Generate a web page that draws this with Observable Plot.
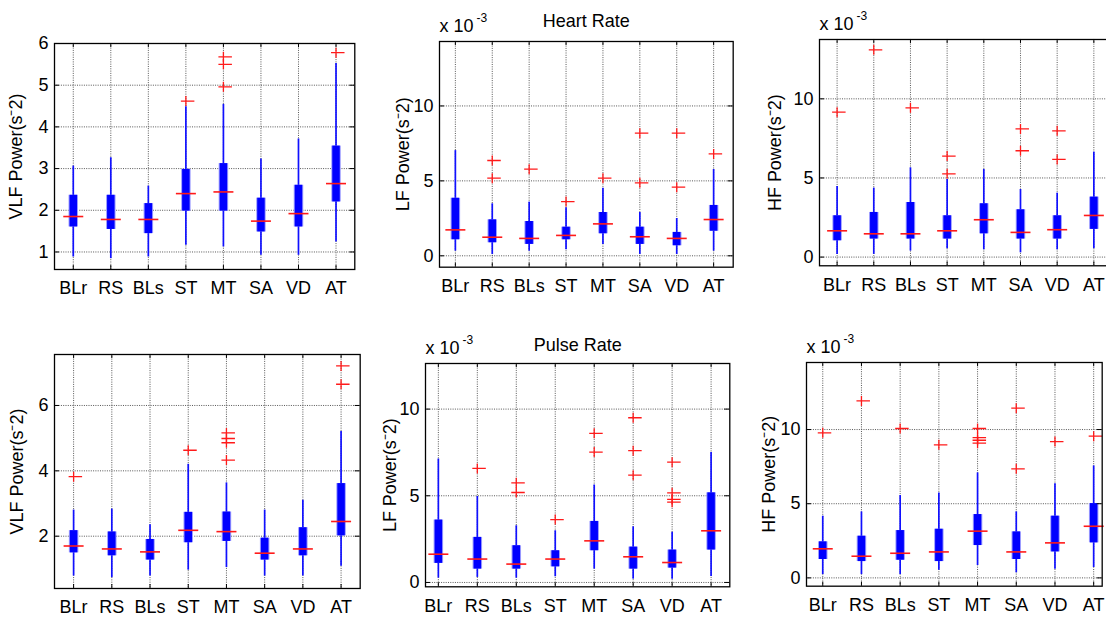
<!DOCTYPE html>
<html><head><meta charset="utf-8">
<script src="https://cdn.jsdelivr.net/npm/d3@7"></script>
<script src="https://cdn.jsdelivr.net/npm/@observablehq/plot@0.6"></script>
<style>
html,body{margin:0;padding:0;background:#fff;}
#wrap{position:relative;width:1106px;height:617px;overflow:hidden;background:#fff;}
#wrap > div{position:absolute;}
</style></head><body><div id="wrap"></div><script>
// ---------- data ----------
const categories = ["BLr","RS","BLs","ST","MT","SA","VD","AT"];

// Heart Rate, VLF
const hrVlfLo  = [0.88, 0.84, 0.88, 1.16, 1.12, 0.92, 0.92, 1.24];
const hrVlfQ1  = [1.60, 1.54, 1.44, 1.98, 1.98, 1.48, 1.60, 2.20];
const hrVlfMed = [1.85, 1.78, 1.78, 2.40, 2.44, 1.74, 1.92, 2.64];
const hrVlfQ3  = [2.36, 2.36, 2.16, 2.98, 3.12, 2.29, 2.60, 3.54];
const hrVlfHi  = [3.06, 3.26, 2.58, 4.48, 4.54, 3.23, 3.71, 5.52];
const hrVlfOut = [[], [], [], [4.62], [5.68, 5.50, 4.96], [], [], [5.78]];

// Heart Rate, LF (x 10^-3)
const hrLfLo  = [0.31, 0.09, 0.31, 0.40, 0.76, 0.09, 0.09, 0.31];
const hrLfQ1  = [1.07, 0.87, 0.76, 1.07, 1.47, 0.76, 0.67, 1.64];
const hrLfMed = [1.73, 1.24, 1.16, 1.36, 2.13, 1.27, 1.16, 2.42];
const hrLfQ3  = [3.84, 2.40, 2.29, 1.91, 2.89, 1.91, 1.56, 3.36];
const hrLfHi  = [7.02, 3.47, 3.58, 3.20, 4.51, 2.89, 2.49, 5.76];
const hrLfOut = [[], [6.36, 5.18], [5.78], [3.62], [5.18], [8.18, 4.87], [8.18, 4.58], [6.80]];

// Heart Rate, HF (x 10^-3)
const hrHfLo  = [0.17, 0.17, 0.38, 0.53, 0.46, 0.27, 0.46, 0.53];
const hrHfQ1  = [1.03, 1.14, 1.14, 1.14, 1.47, 1.14, 1.14, 1.75];
const hrHfMed = [1.66, 1.47, 1.47, 1.66, 2.36, 1.56, 1.73, 2.63];
const hrHfQ3  = [2.61, 2.82, 3.45, 2.61, 3.37, 2.99, 2.61, 3.79];
const hrHfHi  = [4.46, 4.36, 5.64, 4.90, 5.54, 4.27, 4.04, 6.63];
const hrHfOut = [[9.16], [13.10], [9.43], [6.38, 5.26], [], [8.10, 6.72], [7.98, 6.17], []];

// Pulse Rate, VLF
const prVlfLo  = [0.78, 0.73, 0.78, 0.96, 1.04, 0.78, 0.78, 1.08];
const prVlfQ1  = [1.49, 1.40, 1.27, 1.80, 1.84, 1.27, 1.40, 2.01];
const prVlfMed = [1.70, 1.61, 1.52, 2.18, 2.14, 1.48, 1.61, 2.45];
const prVlfQ3  = [2.17, 2.13, 1.90, 2.73, 2.74, 1.94, 2.26, 3.61];
const prVlfHi  = [2.80, 2.83, 2.35, 4.20, 3.63, 2.80, 3.10, 5.20];
const prVlfOut = [[3.82], [], [], [4.63], [5.16, 4.99, 4.86, 4.33], [], [], [7.21, 6.65]];

// Pulse Rate, LF (x 10^-3)
const prLfLo  = [0.25, 0.29, 0.25, 0.33, 0.77, 0.19, 0.19, 0.35];
const prLfQ1  = [1.10, 0.77, 0.77, 0.90, 1.83, 0.77, 0.83, 1.87];
const prLfMed = [1.63, 1.35, 1.06, 1.35, 2.40, 1.48, 1.15, 2.98];
const prLfQ3  = [3.60, 2.60, 2.12, 1.83, 3.52, 2.04, 1.87, 5.17];
const prLfHi  = [7.12, 4.96, 3.27, 2.98, 5.62, 3.21, 2.90, 7.50];
const prLfOut = [[], [6.58], [5.75, 5.19], [3.63], [8.60, 7.52], [9.50, 7.60, 6.19], [6.94, 5.17, 4.79, 4.63], []];

// Pulse Rate, HF (x 10^-3)
const prHfLo  = [0.22, 0.22, 0.22, 0.52, 0.83, 0.34, 0.58, 0.70];
const prHfQ1  = [1.24, 1.10, 1.19, 1.10, 2.18, 1.24, 1.75, 2.36];
const prHfMed = [1.96, 1.46, 1.66, 1.75, 3.15, 1.75, 2.36, 3.48];
const prHfQ3  = [2.43, 2.81, 3.19, 3.28, 4.27, 3.10, 4.16, 5.01];
const prHfHi  = [4.16, 4.45, 5.55, 5.73, 7.08, 4.45, 6.34, 7.55];
const prHfOut = [[9.78], [11.93], [10.07], [8.97], [10.07, 9.46, 9.28, 9.08], [11.44, 7.35], [9.19], [9.55]];

const ticksVlfTop = [1, 2, 3, 4, 5, 6];
const ticksVlfBottom = [2, 4, 6];
const ticksMilli = [0, 5, 10];

// ---------- layout ----------
const panels = [
  {stats:[hrVlfLo,hrVlfQ1,hrVlfMed,hrVlfQ3,hrVlfHi], out:hrVlfOut, ylabel:"VLF Power(s\u207B2)", title:null, note:false,
   yDomain:[0.58, 6.0], yTicks:ticksVlfTop, xDomain:[0.5, 8.5], frame:[54, 354.3, 43, 269], labelDx:-38},
  {stats:[hrLfLo,hrLfQ1,hrLfMed,hrLfQ3,hrLfHi], out:hrLfOut, ylabel:"LF Power(s\u207B2)", title:"Heart Rate", titleDy:-27, note:true,
   yDomain:[-0.76, 14.3], yTicks:ticksMilli, xDomain:[0.57, 8.53], frame:[439, 732.7, 41, 266.7], labelDx:-36},
  {stats:[hrHfLo,hrHfQ1,hrHfMed,hrHfQ3,hrHfHi], out:hrHfOut, ylabel:"HF Power(s\u207B2)", title:null, note:true,
   yDomain:[-0.55, 13.75], yTicks:ticksMilli, xDomain:[0.52, 8.5], frame:[819.3, 1112, 39, 265.3], labelDx:-44},
  {stats:[prVlfLo,prVlfQ1,prVlfMed,prVlfQ3,prVlfHi], out:prVlfOut, ylabel:"VLF Power(s\u207B2)", title:null, note:false,
   yDomain:[0.4, 7.56], yTicks:ticksVlfBottom, xDomain:[0.5, 8.5], frame:[54.3, 360, 354.3, 588.3], labelDx:-37},
  {stats:[prLfLo,prLfQ1,prLfMed,prLfQ3,prLfHi], out:prLfOut, ylabel:"LF Power(s\u207B2)", title:"Pulse Rate", titleDy:-25.4, note:true,
   yDomain:[-0.25, 12.63], yTicks:ticksMilli, xDomain:[0.67, 8.48], frame:[425, 729.3, 362.7, 586], labelDx:-35},
  {stats:[prHfLo,prHfQ1,prHfMed,prHfQ3,prHfHi], out:prHfOut, ylabel:"HF Power(s\u207B2)", title:null, note:true,
   yDomain:[-0.56, 14.52], yTicks:ticksMilli, xDomain:[0.58, 8.22], frame:[806, 1101.7, 362.3, 586], labelDx:-37.5}
];

const plusSym = {draw(ctx, size) { const r = Math.sqrt(size / Math.PI);
  ctx.moveTo(-r, 0); ctx.lineTo(r * 1.7, 0); ctx.moveTo(0, -r); ctx.lineTo(0, r); }};
const hlineSym = {draw(ctx, size) { const r = Math.sqrt(size / Math.PI);
  ctx.moveTo(-r, 0); ctx.lineTo(r, 0); }};

const FONT = "'Liberation Sans', Arial, Helvetica, sans-serif";
const wrap = document.getElementById("wrap");
const idx = d3.range(1, 9);

panels.forEach(p => {
  const mL = 62, mR = 6, mT = 46, mB = 36;
  const [fl, fr, ft, fb] = p.frame;
  const fw = fr - fl, fh = fb - ft;
  const [lo, q1, med, q3, hi] = p.stats;
  const rows = categories.map((c, i) => ({i: i + 1, lo: lo[i], q1: q1[i], med: med[i], q3: q3[i], hi: hi[i]}));
  const outs = p.out.flatMap((arr, i) => arr.map(v => ({i: i + 1, v})));
  const marks = [
    Plot.ruleY(p.yTicks, {y: d => d, stroke: "#444", strokeWidth: 0.9, strokeDasharray: "1,1.3"}),
    Plot.ruleX(idx, {x: d => d, stroke: "#444", strokeWidth: 0.9, strokeDasharray: "1,1.3"}),
    Plot.ruleX(rows, {x: "i", y1: "lo", y2: "hi", stroke: "#1010ff", strokeWidth: 1.7}),
    Plot.ruleX(rows, {x: "i", y1: "q1", y2: "q3", stroke: "#9c9cff", strokeWidth: 9.5}),
    Plot.ruleX(rows, {x: "i", y1: "q1", y2: "q3", stroke: "#0000ff", strokeWidth: 7.5}),
    Plot.dot(rows, {x: "i", y: "med", symbol: hlineSym, r: 10, fill: "none", stroke: "#ff1a1a", strokeWidth: 1.6}),
    Plot.dot(outs, {x: "i", y: "v", symbol: plusSym, r: 5, fill: "none", stroke: "#ff1a1a", strokeWidth: 1.3}),
    Plot.tickY(p.yTicks, {y: d => d, insetRight: fw - 5, stroke: "black", strokeWidth: 1}),
    Plot.tickY(p.yTicks, {y: d => d, insetLeft: fw - 5, stroke: "black", strokeWidth: 1}),
    Plot.tickX(idx, {x: d => d, insetBottom: fh - 4, stroke: "black", strokeWidth: 1}),
    Plot.tickX(idx, {x: d => d, insetTop: fh - 4, stroke: "black", strokeWidth: 1}),
    Plot.frame({stroke: "black", strokeWidth: 1.3}),
    Plot.axisY({ticks: p.yTicks, anchor: "left", tickSize: 0, tickPadding: 6, label: null, fontSize: 18,
      tickFormat: d => String(d)}),
    Plot.axisX({ticks: idx, anchor: "bottom", tickSize: 0, tickPadding: 12, label: null, fontSize: 18,
      tickFormat: d => categories[d - 1]}),
    Plot.text([p.ylabel], {text: d => d, frameAnchor: "left", rotate: -90, dx: p.labelDx,
      textAnchor: "middle", lineAnchor: "middle", fontSize: 18, fill: "black"})
  ];
  if (p.title) marks.push(Plot.text([p.title], {text: d => d, frameAnchor: "top", dy: p.titleDy,
      textAnchor: "middle", lineAnchor: "top", fontSize: 18, fill: "black"}));
  if (p.note) {
    marks.push(Plot.text(["x 10"], {text: d => d, frameAnchor: "top-left", dy: -22, textAnchor: "start",
      lineAnchor: "top", fontSize: 18, fill: "black"}));
    marks.push(Plot.text(["-3"], {text: d => d, frameAnchor: "top-left", dx: 37, dy: -28, textAnchor: "start",
      lineAnchor: "top", fontSize: 12, fill: "black"}));
  }
  const chart = Plot.plot({
    width: fw + mL + mR, height: fh + mT + mB,
    marginLeft: mL, marginRight: mR, marginTop: mT, marginBottom: mB,
    x: {domain: p.xDomain, axis: null},
    y: {domain: p.yDomain, axis: null},
    style: {fontFamily: FONT, fontSize: "18px", background: "white", color: "black", overflow: "visible"},
    marks
  });
  const div = document.createElement("div");
  div.style.left = (fl - mL) + "px";
  div.style.top = (ft - mT) + "px";
  div.style.width = (fw + mL + mR) + "px";
  div.appendChild(chart);
  wrap.appendChild(div);
});
</script></body></html>
